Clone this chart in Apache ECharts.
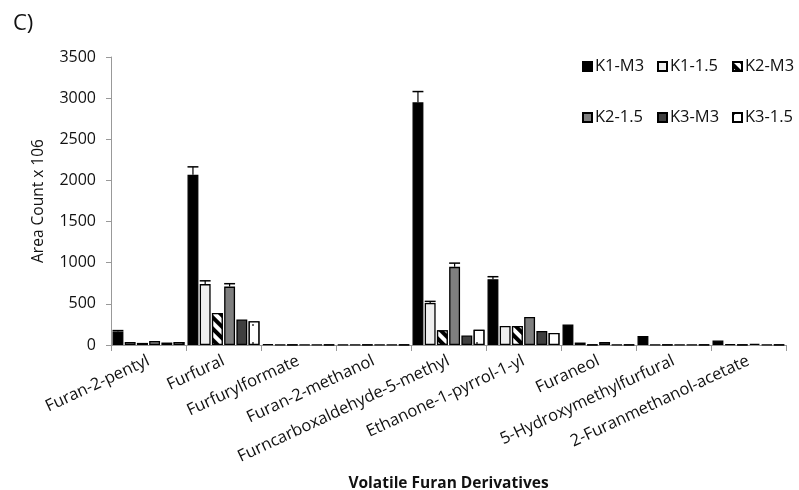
<!DOCTYPE html>
<html><head><meta charset="utf-8">
<script src="https://cdn.jsdelivr.net/npm/echarts@6/dist/echarts.min.js"></script>
<style>html,body{margin:0;padding:0;background:#fff}#c{width:799px;height:490px}</style>
</head><body><div id="c"></div>
<script>
const categories = ['Furan-2-pentyl','Furfural','Furfurylformate','Furan-2-methanol','Furncarboxaldehyde-5-methyl','Ethanone-1-pyrrol-1-yl','Furaneol','5-Hydroxymethylfurfural','2-Furanmethanol-acetate'];
const seriesNames = ['K1-M3','K1-1.5','K2-M3','K2-1.5','K3-M3','K3-1.5'];
const k1m3  = [165, 2070, 8, 5, 2950, 800, 250, 110, 55];
const k1_15 = [35, 740, 5, 5, 510, 230, 30, 5, 10];
const k2m3  = [25, 390, 5, 5, 180, 230, 5, 5, 5];
const k2_15 = [50, 710, 5, 5, 950, 340, 35, 5, 15];
const k3m3  = [30, 310, 5, 5, 115, 170, 5, 5, 5];
const k3_15 = [35, 290, 5, 5, 185, 145, 5, 5, 5];
const k1m3Err  = [10, 95, 0, 0, 130, 30, 0, 0, 0];
const k1_15Err = [0, 40, 0, 0, 20, 0, 0, 0, 0];
const k2m3Err  = [0, 0, 0, 0, 0, 0, 0, 0, 0];
const k2_15Err = [0, 35, 0, 0, 45, 0, 0, 0, 0];
const k3m3Err  = [0, 0, 0, 0, 0, 0, 0, 0, 0];
const k3_15Err = [0, 0, 0, 0, 0, 0, 0, 0, 0];
const yTicks = {min: 0, max: 3500, interval: 500};

const values = [k1m3, k1_15, k2m3, k2_15, k3m3, k3_15];
const errors = [k1m3Err, k1_15Err, k2m3Err, k2_15Err, k3m3Err, k3_15Err];

const FONT = '"Open Sans", "Noto Sans", sans-serif';
const CAT_GAP = 0.04, BAR_GAP = 0.12;
const styles = [
  {color:'#000000'},
  {color:'#efefef'},
  {color:'#ffffff', decal:{symbol:'rect', symbolSize:1, color:'#000', backgroundColor:'#fff', dashArrayX:[1,0], dashArrayY:[4,4], rotation:Math.PI/4}},
  {color:'#7f7f7f'},
  {color:'#3f3f3f'},
  {color:'#ffffff', decal:{symbol:'rect', symbolSize:1, color:'#666', backgroundColor:'#fff', dashArrayX:[2,12], dashArrayY:[2,16]}}
];

const series = seriesNames.map((n, i) => ({
  name: n, type: 'bar', data: values[i],
  barCategoryGap: (CAT_GAP*100)+'%', barGap: (BAR_GAP*100)+'%',
  itemStyle: Object.assign({borderColor:'#000', borderWidth:1.3}, styles[i])
}));

const errData = [];
values.forEach((arr, si) => arr.forEach((v, ci) => { if (errors[si][ci] > 0) errData.push([ci, si, v, errors[si][ci]]); }));

series.push({
  type: 'custom', name: 'err', silent: true, z: 5,
  data: errData, encode: {x: 0, y: 2},
  renderItem: function (params, api) {
    const ci = api.value(0), si = api.value(1), v = api.value(2), e = api.value(3);
    const band = api.size([1, 0])[0];
    const n = seriesNames.length;
    const w = band * (1 - CAT_GAP) / (n + (n - 1) * BAR_GAP);
    const total = n * w + (n - 1) * BAR_GAP * w;
    const c = api.coord([ci, v]);
    const x = c[0] - total / 2 + si * w * (1 + BAR_GAP) + w / 2;
    const top = api.coord([ci, v + e])[1];
    const half = w / 2;
    return {type: 'group', children: [
      {type: 'line', shape: {x1: x, y1: c[1], x2: x, y2: top}, style: {stroke: '#000', lineWidth: 1.2}},
      {type: 'line', shape: {x1: x - half, y1: top, x2: x + half, y2: top}, style: {stroke: '#000', lineWidth: 1.5}}
    ]};
  }
});

const legendX = [582, 657, 732];
const legends = seriesNames.map((n, i) => ({
  data: [n], left: legendX[i % 3], top: i < 3 ? 58 : 109,
  itemWidth: 9, itemHeight: 9, itemGap: 3, icon: 'rect', padding: 0,
  textStyle: {fontFamily: FONT, fontSize: 16.5, color: '#111', padding: [0,0,0,-2]},
  selectedMode: false
}));

const chart = echarts.init(document.getElementById('c'), null, {renderer: 'canvas'});
chart.setOption({
  animation: false,
  backgroundColor: '#fff',
  title: {text: 'C)', left: 8, top: 8, textStyle: {fontFamily: FONT, fontSize: 22, fontWeight: 'normal', color: '#111'}},
  legend: legends,
  grid: {left: 111, right: 13, top: 57, bottom: 145, containLabel: false, outerBoundsMode: 'none'},
  xAxis: {
    type: 'category', data: categories,
    name: 'Volatile Furan Derivatives', nameLocation: 'middle', nameGap: 131,
    nameTextStyle: {fontFamily: FONT, fontSize: 15.5, fontWeight: 'bold', color: '#111'},
    axisLine: {lineStyle: {color: '#999', width: 1}},
    axisTick: {show: true, length: 6, lineStyle: {color: '#999'}},
    axisLabel: {interval: 0, rotate: 25, fontFamily: FONT, fontSize: 16.5, color: '#111', margin: 15}
  },
  yAxis: {
    type: 'value', min: yTicks.min, max: yTicks.max, interval: yTicks.interval,
    name: 'Area Count x 106', nameLocation: 'middle', nameGap: 64,
    nameTextStyle: {fontFamily: FONT, fontSize: 15.5, color: '#111'},
    axisLine: {show: true, lineStyle: {color: '#999', width: 1}},
    axisTick: {show: true, length: 5, lineStyle: {color: '#999'}},
    splitLine: {show: false},
    axisLabel: {fontFamily: FONT, fontSize: 16, color: '#111', margin: 15, formatter: v => String(v)}
  },
  series: series
});
</script></body></html>
